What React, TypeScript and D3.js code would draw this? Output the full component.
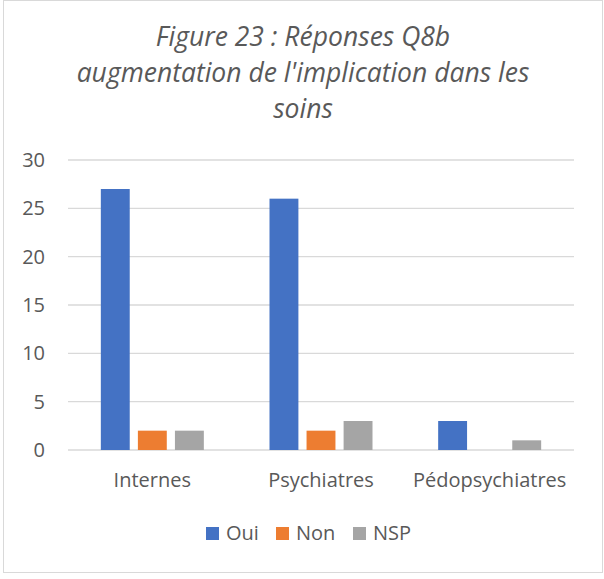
import React from "react";
import * as d3 from "d3";

const categories = ["Internes", "Psychiatres", "Pédopsychiatres"];
const seriesNames = ["Oui", "Non", "NSP"];
const oui = [27, 26, 3];
const non = [2, 2, 0];
const nsp = [2, 3, 1];
const yTicks = [0, 5, 10, 15, 20, 25, 30];
const titleLines = ["Figure 23 : Réponses Q8b", "augmentation de l'implication dans les", "soins"];
const colors = ["#4472C4", "#ED7D31", "#A5A5A5"];

export default function App() {
  const W = 604, H = 579;
  const left = 68, right = 574, top = 160, bottom = 450;
  const values = [oui, non, nsp];
  const x0 = d3.scaleBand().domain(categories).range([left, right]).paddingInner(0).paddingOuter(0);
  const groupW = 103;
  const x1 = d3.scaleBand().domain(seriesNames).range([0, groupW]).paddingInner(0.22).paddingOuter(0);
  const y = d3.scaleLinear().domain([0, 30]).range([bottom, top]);
  const font = "'Open Sans', 'Noto Sans', sans-serif";
  const legendX = [206, 276, 353];
  return (
    <svg width={W} height={H} style={{ position: "absolute", left: 0, top: 0 }} fontFamily={font}>
      <rect x={0} y={0} width={W} height={H} fill="#fff" />
      <rect x={3.5} y={0.5} width={599} height={572} fill="none" stroke="#D9D9D9" />
      {titleLines.map((t, i) => (
        <text key={i} x={303} y={46 + i * 36} textAnchor="middle" fontSize={26.5} fontStyle="italic" fill="#595959">{t}</text>
      ))}
      {yTicks.map((v) => (
        <g key={v}>
          <line x1={left} x2={right} y1={y(v)} y2={y(v)} stroke="#D9D9D9" strokeWidth={1.3} />
          <text x={45} y={y(v) + 7} textAnchor="end" fontSize={20} fill="#595959">{v}</text>
        </g>
      ))}
      {categories.map((c, ci) => {
        const gx = (x0(c) as number) + (x0.bandwidth() - groupW) / 2;
        return (
          <g key={c}>
            {seriesNames.map((s, si) => {
              const v = values[si][ci];
              if (v === 0) return null;
              return (
                <rect key={s} x={gx + (x1(s) as number)} y={y(v)} width={x1.bandwidth()} height={y(0) - y(v)} fill={colors[si]} />
              );
            })}
            <text x={(x0(c) as number) + x0.bandwidth() / 2} y={487} textAnchor="middle" fontSize={20} fill="#595959">{c}</text>
          </g>
        );
      })}
      {seriesNames.map((s, si) => (
        <g key={s}>
          <rect x={legendX[si]} y={527} width={13} height={13} fill={colors[si]} />
          <text x={legendX[si] + 20} y={540} fontSize={20} fill="#595959">{s}</text>
        </g>
      ))}
    </svg>
  );
}
